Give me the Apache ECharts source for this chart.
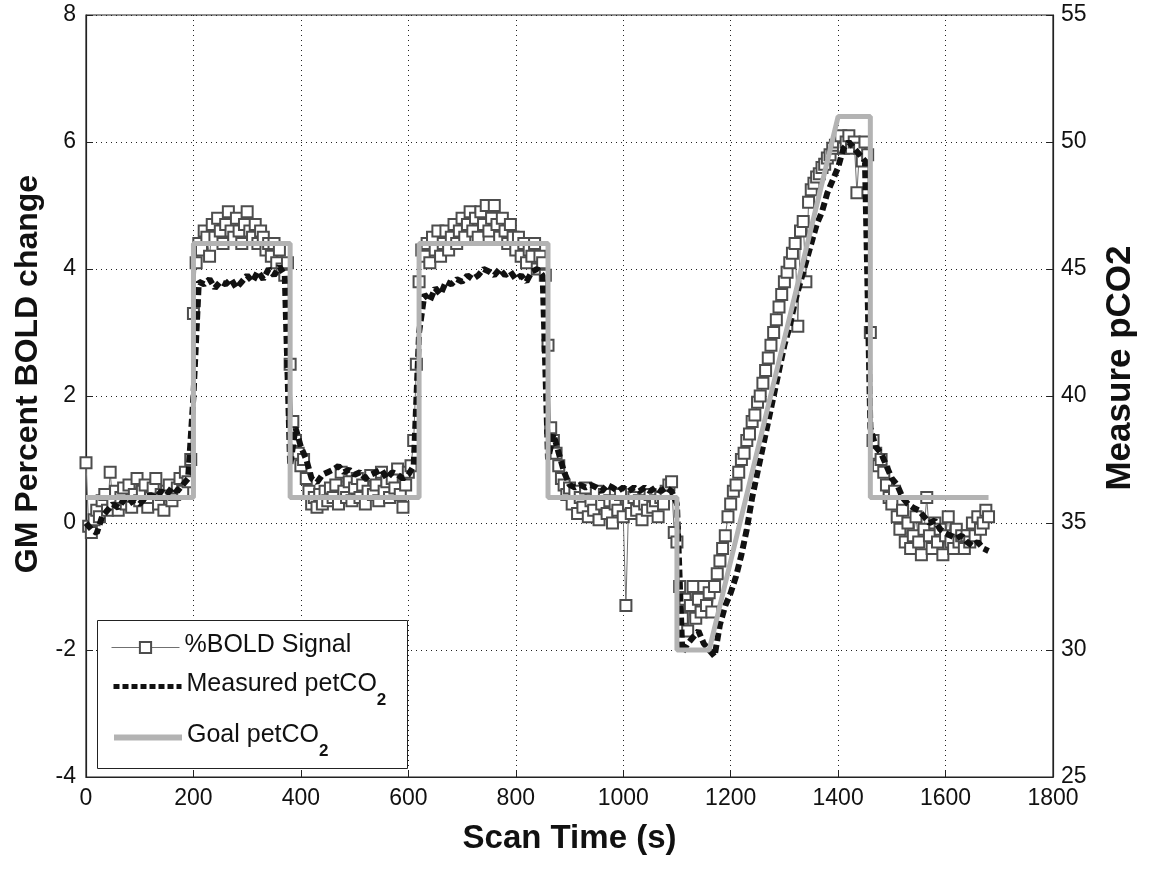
<!DOCTYPE html>
<html>
<head>
<meta charset="utf-8">
<script src="https://cdn.jsdelivr.net/npm/echarts@6/dist/echarts.min.js"></script>
<style>html,body{margin:0;padding:0;background:#fff;}#chart{width:1149px;height:869px;}</style>
</head>
<body>
<div id="chart"></div>
<script>
// ---- Data ----
const xTicks = [0, 200, 400, 600, 800, 1000, 1200, 1400, 1600, 1800];
const leftTicks = [-4, -2, 0, 2, 4, 6, 8];
const rightTicks = [25, 30, 35, 40, 45, 50, 55];

// %BOLD signal, sampled every 5 s from t = 0 to 1680 s (left axis, %)
const boldStep = 5;
const boldPct = [
  // 0-195
  0.95, -0.05, -0.15, 0.05, 0.2, 0.1, 0.35, 0.45, 0.2, 0.8, 0.3, 0.5, 0.2, 0.4, 0.55, 0.3, 0.6, 0.25, 0.45, 0.7,
  0.35, 0.5, 0.6, 0.25, 0.4, 0.55, 0.7, 0.3, 0.45, 0.2, 0.5, 0.6, 0.35, 0.45, 0.55, 0.7, 0.5, 0.8, 0.65, 1.0,
  // 200-375
  3.3, 4.1, 4.4, 4.3, 4.6, 4.5, 4.2, 4.7, 4.5, 4.8, 4.6, 4.4, 4.7, 4.9, 4.6, 4.5, 4.8, 4.6,
  4.4, 4.7, 4.9, 4.6, 4.5, 4.7, 4.4, 4.6, 4.5, 4.3, 4.4, 4.2, 4.4, 4.1, 4.3, 4.0, 3.9, 4.1,
  // 380-615
  2.5, 1.6, 1.3, 1.1, 0.9, 1.0, 0.7, 0.5, 0.3, 0.4, 0.25, 0.45, 0.3, 0.5, 0.35, 0.55, 0.4, 0.6, 0.3, 0.8, 0.5, 0.4, 0.65, 0.35,
  0.55, 0.7, 0.4, 0.6, 0.3, 0.5, 0.75, 0.45, 0.6, 0.35, 0.8, 0.5, 0.65, 0.4, 0.7, 0.55, 0.85, 0.45, 0.25, 0.6, 0.8, 0.9, 1.3, 2.5,
  // 620-855
  3.8, 4.3, 4.2, 4.4, 4.1, 4.5, 4.3, 4.6, 4.2, 4.4, 4.6, 4.3, 4.5, 4.7, 4.4, 4.6, 4.8, 4.5, 4.7, 4.9, 4.6, 4.8, 4.5, 4.9,
  4.7, 5.0, 4.6, 4.8, 5.0, 4.7, 4.5, 4.8, 4.6, 4.4, 4.7, 4.5, 4.3, 4.5, 4.2, 4.4, 4.1, 4.3, 4.2, 4.4, 4.0, 4.2, 4.1, 3.9,
  // 860-1095
  2.8, 1.5, 1.3, 1.1, 0.9, 0.7, 0.6, 0.45, 0.55, 0.3, 0.5, 0.15, 0.4, 0.25, 0.55, 0.1, 0.35, 0.2, 0.5, 0.05, 0.3, 0.45, 0.15, 0.35,
  0.0, 0.3, 0.2, 0.45, 0.1, -1.3, 0.3, 0.15, 0.4, 0.2, 0.35, 0.05, 0.3, 0.2, 0.45, 0.25, 0.35, 0.1, 0.4, 0.3, 0.5, 0.6, 0.65, -0.15,
  // 1100-1155
  -0.3, -1.0, -1.5, -1.2, -1.7, -1.3, -1.0, -1.5, -1.2, -1.4, -1.0, -1.3,
  // 1160-1395
  -1.1, -1.4, -1.0, -0.8, -0.6, -0.4, -0.2, 0.1, 0.3, 0.5, 0.6, 0.8, 1.0, 1.1, 1.3, 1.4, 1.6, 1.7, 1.9, 2.0, 2.2, 2.4, 2.6, 2.8,
  3.0, 3.2, 3.4, 3.6, 3.8, 3.95, 4.1, 4.25, 4.4, 3.1, 4.6, 4.75, 3.8, 5.05, 5.25, 5.35, 5.45, 5.5, 5.6, 5.65, 5.75, 5.8, 5.9, 5.95,
  // 1400-1455
  6.0, 6.1, 5.9, 6.0, 6.1, 5.9, 6.0, 5.2, 5.9, 5.7, 6.0, 5.8,
  // 1460-1680
  3.0, 1.3, 1.1, 0.9, 1.0, 0.8, 0.6, 0.4, 0.3, 0.5, 0.1, -0.1, 0.2, -0.3, 0.0, -0.4, -0.2, 0.1, -0.3, -0.5, -0.1, 0.4, -0.2,
  -0.4, 0.0, -0.3, -0.1, -0.5, -0.2, 0.1, -0.3, -0.4, -0.1, -0.3, -0.2, -0.4, -0.2, -0.3, 0.0, -0.2, 0.1, -0.1, 0.0, 0.2, 0.1
];

// Measured petCO2, sampled every 10 s from t = 0 to 1680 s (right axis, mmHg)
const petStep = 10;
const measuredPet = [
  // 0-190
  35.0, 34.75, 34.6, 35.25, 35.5, 35.75, 35.6, 35.9, 35.75, 35.9, 35.75, 36.0, 36.1, 36.0, 36.25, 36.1, 36.4, 36.25, 36.5, 36.75,
  // 200-370
  40.0, 44.5, 44.4, 44.6, 44.25, 44.5, 44.4, 44.6, 44.25, 44.5, 44.75, 44.5, 44.9, 44.6, 45.0, 44.75, 45.1, 44.75,
  // 380-610
  37.25, 38.75, 38.0, 37.5, 36.75, 36.6, 36.9, 37.0, 37.1, 37.25, 37.0, 37.1, 36.9, 37.0, 36.75, 36.9, 37.0, 37.1, 36.75, 37.0, 36.9, 36.75, 36.9, 37.25,
  // 620-850
  42.5, 44.0, 43.75, 44.25, 44.0, 44.5, 44.4, 44.6, 44.5, 44.75, 44.6, 44.75, 45.0, 44.9, 44.75, 45.0, 44.75, 44.9, 44.6, 44.75, 44.5, 44.9, 45.0, 44.75,
  // 860-1090
  37.5, 38.5, 37.75, 37.0, 36.5, 36.4, 36.5, 36.4, 36.5, 36.4, 36.25, 36.5, 36.4, 36.25, 36.4, 36.25, 36.4, 36.25, 36.4, 36.25, 36.4, 36.25, 36.4, 36.25,
  // 1100-1450
  35.75, 29.9, 30.25, 30.5, 30.75, 30.25, 30.0, 29.75, 31.0, 31.75, 32.25, 32.9, 33.75, 34.75, 36.0, 37.0, 38.0, 39.0,
  40.0, 41.0, 42.0, 42.75, 43.75, 44.5, 45.25, 46.0, 46.75, 47.25, 48.0, 48.5, 49.0, 49.75, 50.0, 49.75, 49.5, 49.25,
  // 1460-1680
  38.75, 38.0, 37.75, 37.25, 36.75, 36.5, 36.0, 35.75, 35.6, 35.5, 35.25, 35.0, 35.1, 34.75, 34.6, 34.5, 34.4, 34.5, 34.25, 34.1, 34.25, 34.0, 33.9
];

// Goal petCO2 breakpoints (right axis, mmHg)
const goalTimes = [0, 200, 200, 380, 380, 620, 620, 860, 860, 1100, 1100, 1160, 1400, 1460, 1460, 1680];
const goalPet   = [36, 36, 46, 46, 36, 36, 46, 46, 36, 36, 30, 30, 51, 51, 36, 36];

const seriesNames = ['%BOLD Signal', 'Measured petCO2', 'Goal petCO2'];

// ---- Build chart ----
const boldData = boldPct.map((v, i) => [i * boldStep, v]);
const petData = measuredPet.map((v, i) => [i * petStep, v]);
const goalData = goalTimes.map((t, i) => [t, goalPet[i]]);

const FONT = '"Liberation Sans", Arial, Helvetica, sans-serif';
const chart = echarts.init(document.getElementById('chart'), null, {renderer: 'canvas'});

const BOLD_EDGE = '#4d4d4d';
const BOLD_LINE = '#707070';
const PET_COLOR = '#111';
const GOAL_COLOR = '#b3b3b3';

const legendRich = {
  n: {fontFamily: FONT, fontSize: 25, color: '#111', lineHeight: 29, verticalAlign: 'top'},
  s: {fontFamily: FONT, fontSize: 17, fontWeight: 'bold', color: '#111', lineHeight: 18, verticalAlign: 'top', padding: [20, 0, 0, 0]}
};
function legendFmt(name) {
  if (name.endsWith('CO2')) return '{n|' + name.slice(0, -1) + '}{s|2}';
  return '{n|' + name + '}';
}
function mkLegend(name, top, lineStyle, hideSymbol) {
  const lg = {
    data: [name], left: 106, top: top, orient: 'vertical',
    itemWidth: 68, itemHeight: 14, itemGap: 0,
    formatter: legendFmt,
    textStyle: {rich: legendRich},
    lineStyle: lineStyle,
    selectedMode: false
  };
  if (hideSymbol) lg.itemStyle = {opacity: 0};
  return lg;
}
const plainNum = v => String(v);

const option = {
  animation: false,
  backgroundColor: '#ffffff',
  grid: {left: 86, right: 96, top: 15, bottom: 92, show: true, borderColor: '#222', borderWidth: 1.2, backgroundColor: 'transparent'},
  legend: [
    mkLegend(seriesNames[0], 628, {color: BOLD_LINE, width: 1}, false),
    mkLegend(seriesNames[1], 667, {color: PET_COLOR, width: 5, type: [6, 3]}, true),
    mkLegend(seriesNames[2], 718, {color: GOAL_COLOR, width: 6}, true)
  ],
  graphic: [{
    type: 'rect', z: 4, left: 97, top: 620,
    shape: {width: 310, height: 148},
    style: {fill: '#fff', stroke: '#222', lineWidth: 1}
  }],
  xAxis: {
    type: 'value', min: xTicks[0], max: xTicks[xTicks.length - 1], interval: 200,
    name: 'Scan Time (s)', nameLocation: 'middle', nameGap: 45,
    nameTextStyle: {fontFamily: FONT, fontSize: 33, fontWeight: 'bold', color: '#111'},
    axisLine: {onZero: false, lineStyle: {color: '#222', width: 1.2}},
    axisTick: {inside: true, length: 7, lineStyle: {color: '#222'}},
    axisLabel: {fontFamily: FONT, fontSize: 23, color: '#111', margin: 10, formatter: plainNum},
    splitLine: {show: true, lineStyle: {color: '#222', type: [1, 4], width: 1}}
  },
  yAxis: [{
    type: 'value', min: leftTicks[0], max: leftTicks[leftTicks.length - 1], interval: 2, position: 'left',
    name: 'GM Percent BOLD change', nameLocation: 'middle', nameGap: 42, nameRotate: 90,
    nameTextStyle: {fontFamily: FONT, fontSize: 32, fontWeight: 'bold', color: '#111', padding: [0, 0, 0, 44]},
    axisLine: {show: true, onZero: false, lineStyle: {color: '#222', width: 1.2}},
    axisTick: {show: true, inside: true, length: 7, lineStyle: {color: '#222'}},
    axisLabel: {fontFamily: FONT, fontSize: 23, color: '#111', margin: 10, formatter: plainNum},
    splitLine: {show: true, lineStyle: {color: '#222', type: [1, 4], width: 1}}
  }, {
    type: 'value', min: rightTicks[0], max: rightTicks[rightTicks.length - 1], interval: 5, position: 'right',
    name: 'Measure pCO2', nameLocation: 'middle', nameGap: 50, nameRotate: 90,
    nameTextStyle: {fontFamily: FONT, fontSize: 35, fontWeight: 'bold', color: '#111', padding: [0, 0, 0, 56]},
    axisLine: {show: true, onZero: false, lineStyle: {color: '#222', width: 1.2}},
    axisTick: {show: true, inside: true, length: 7, lineStyle: {color: '#222'}},
    axisLabel: {fontFamily: FONT, fontSize: 23, color: '#111', margin: 8, formatter: plainNum},
    splitLine: {show: false}
  }],
  series: [{
    name: seriesNames[0], type: 'line', yAxisIndex: 0, data: boldData,
    symbol: 'emptyRect', symbolSize: 11, showAllSymbol: true,
    lineStyle: {color: BOLD_LINE, width: 1},
    itemStyle: {color: BOLD_EDGE, borderColor: BOLD_EDGE, borderWidth: 1},
    z: 2
  }, {
    name: seriesNames[1], type: 'line', yAxisIndex: 1, data: petData,
    symbol: 'none',
    lineStyle: {color: PET_COLOR, width: 6, type: [8, 4]},
    itemStyle: {color: PET_COLOR},
    z: 3
  }, {
    name: seriesNames[2], type: 'line', yAxisIndex: 1, data: goalData,
    symbol: 'none',
    lineStyle: {color: GOAL_COLOR, width: 5},
    itemStyle: {color: GOAL_COLOR},
    z: 3
  }]
};
chart.setOption(option);
</script>
</body>
</html>
